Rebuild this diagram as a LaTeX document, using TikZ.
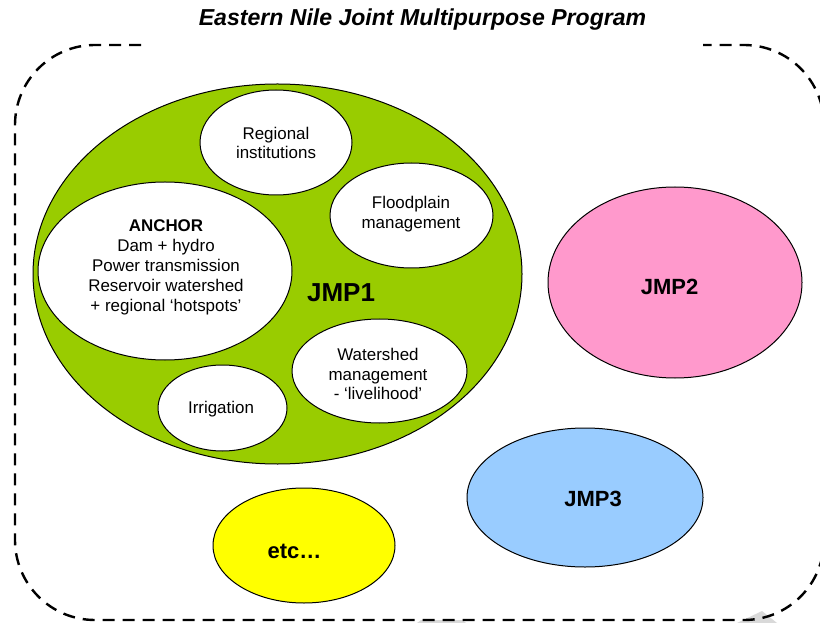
\documentclass[tikz,border=0pt]{standalone}
\usepackage{fontspec}
\setmainfont{Liberation Sans}
\tikzset{every picture/.style={line width=0.75pt}}
\tikzset{
  bubble/.style={draw,fill=white},
  inner/.style={align=center,font=\fontsize{12.7pt}{14.5pt}\selectfont},
  jmp/.style={font=\fontsize{16.5pt}{19pt}\selectfont\bfseries},
}

\begin{document}
\begin{tikzpicture}[x=0.75pt,y=0.75pt,yscale=-1,xscale=1]
	\useasboundingbox (0,0) rectangle (820,623);

	%Shape: Polygon [id:dp1204577310928841]
	\fill [color={rgb, 255:red, 217; green, 217; blue, 217 }] (417,623) -- (421,620) -- (462,620) -- (466,623) -- cycle ;
	%Shape: Polygon [id:dp5530917702214467]
	\fill [color={rgb, 255:red, 217; green, 217; blue, 217 }] (737,623) -- (762,611) -- (777,623) -- cycle ;
	%Shape: Rounded Rect [id:dp7742810036519285]
	\draw [line width=1.8pt, dash pattern={on 9pt off 6pt}, rounded corners=60pt] (141,45) -- (15,45) -- (15,620) -- (824,620) -- (824,45) -- (703,45) ;

	%Shape: Ellipse [id:dp3318502267019624]
	\draw [fill={rgb, 255:red, 153; green, 204; blue, 0 }] (277.5,274) ellipse (244.5 and 190) ;
	%Shape: Ellipse [id:dp8861027451093319]
	\draw [bubble] (276,142.5) ellipse (76 and 52.5) ;
	%Shape: Ellipse [id:dp2240917756628104]
	\draw [bubble] (411.5,215.5) ellipse (81.5 and 52.5) ;
	%Shape: Ellipse [id:dp6093348120071562]
	\draw [bubble] (165,271) ellipse (127 and 89) ;
	%Shape: Ellipse [id:dp9012473385516620]
	\draw [bubble] (379.5,371) ellipse (87.5 and 52) ;
	%Shape: Ellipse [id:dp4478130925263317]
	\draw [bubble] (222.5,408) ellipse (64.5 and 43) ;
	%Shape: Ellipse [id:dp1635092847751036]
	\draw [fill={rgb, 255:red, 255; green, 153; blue, 204 }] (675,282.5) ellipse (127 and 95.5) ;
	%Shape: Ellipse [id:dp7390245518862413]
	\draw [fill={rgb, 255:red, 153; green, 204; blue, 255 }] (585,497.5) ellipse (118 and 69.5) ;
	%Shape: Ellipse [id:dp0526384971126658]
	\draw [fill={rgb, 255:red, 255; green, 255; blue, 0 }] (304,545.5) ellipse (91 and 57.5) ;

	% Text Node
	\draw (422.5,20) node (title) [font=\fontsize{17.3pt}{20pt}\selectfont\bfseries\itshape] {Eastern Nile Joint Multipurpose Program};
	% Text Node
	\draw (276,143) node (inst) [inner] {Regional\\institutions};
	% Text Node
	\draw (411,214) node (flood) [inner] {Floodplain\\management};
	% Text Node
	\draw (166,267) node (anchor) [inner, font=\fontsize{12.7pt}{15pt}\selectfont] {\textbf{ANCHOR}\\Dam + hydro\\Power transmission\\Reservoir watershed\\+ regional ‘hotspots’};
	% Text Node
	\draw (378,374) node (water) [inner] {Watershed\\management\\- ‘livelihood’};
	% Text Node
	\draw (221,409) node (irrig) [inner] {Irrigation};
	% Text Node
	\draw (341,293) node (jmp1) [jmp, font=\fontsize{19.5pt}{22pt}\selectfont\bfseries] {JMP1};
	% Text Node
	\draw (669.5,287) node (jmp2) [jmp] {JMP2};
	% Text Node
	\draw (593,499) node (jmp3) [jmp] {JMP3};
	% Text Node
	\draw (294.5,551) node (etc) [jmp] {etc…};

\end{tikzpicture}
\end{document}
